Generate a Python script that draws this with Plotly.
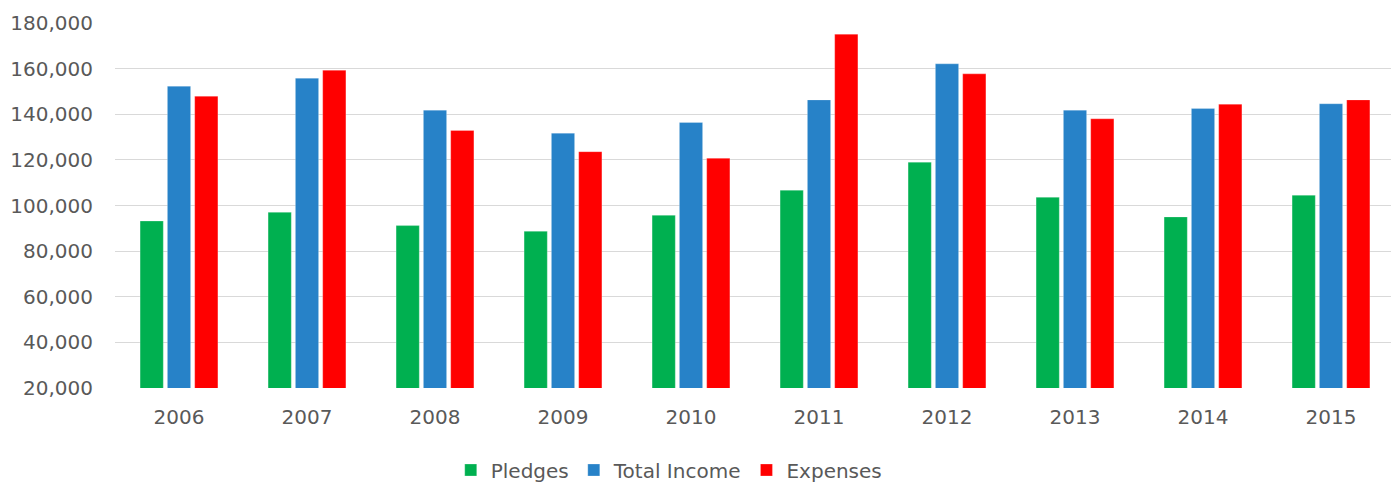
import plotly.graph_objects as go

years = ["2006", "2007", "2008", "2009", "2010", "2011", "2012", "2013", "2014", "2015"]
pledges = [93200, 97000, 91200, 88700, 95700, 106700, 119000, 103600, 95000, 104500]
total_income = [152300, 155800, 141800, 131700, 136400, 146300, 162100, 141800, 142500, 144600]
expenses = [147900, 159300, 132900, 123600, 120700, 175100, 157700, 138000, 144400, 146300]
y_ticks = [20000, 40000, 60000, 80000, 100000, 120000, 140000, 160000, 180000]

font_family = "'DejaVu Sans', sans-serif"
gray = "#595959"

fig = go.Figure()
for name, vals, color in [
    ("Pledges", pledges, "#00B050"),
    ("Total Income", total_income, "#2782C8"),
    ("Expenses", expenses, "#FF0000"),
]:
    fig.add_trace(go.Bar(
        x=years, y=vals, name=name,
        marker=dict(color=color, line=dict(color="rgba(255,255,255,0.5)", width=0.5)),
    ))

# page body has an 8px margin; figure sized to fit the 1399x485 window
fig.update_layout(
    width=1391, height=477,
    margin=dict(l=107, r=4, t=15, b=97, autoexpand=False),
    paper_bgcolor="white", plot_bgcolor="white",
    barmode="group", bargap=0.36, bargroupgap=0.15,
    font=dict(family=font_family, color=gray, size=20),
    showlegend=True,
    legend=dict(orientation="h", x=0.433, xanchor="center", y=-0.2247, yanchor="middle",
                font=dict(size=20, color=gray), itemwidth=30, traceorder="normal"),
)
fig.update_xaxes(showgrid=False, showline=False, ticks="outside", ticklen=11, tickcolor="white",
                 tickfont=dict(size=20, color=gray), automargin=False)
fig.update_yaxes(range=[20000, 180000], tickvals=y_ticks, tickformat=",",
                 showgrid=True, gridcolor="#D9D9D9", gridwidth=1.3, zeroline=False,
                 showline=False, ticks="outside", ticklen=17, tickcolor="white",
                 tickfont=dict(size=20, color=gray), automargin=False)

fig.write_html("out.html")
